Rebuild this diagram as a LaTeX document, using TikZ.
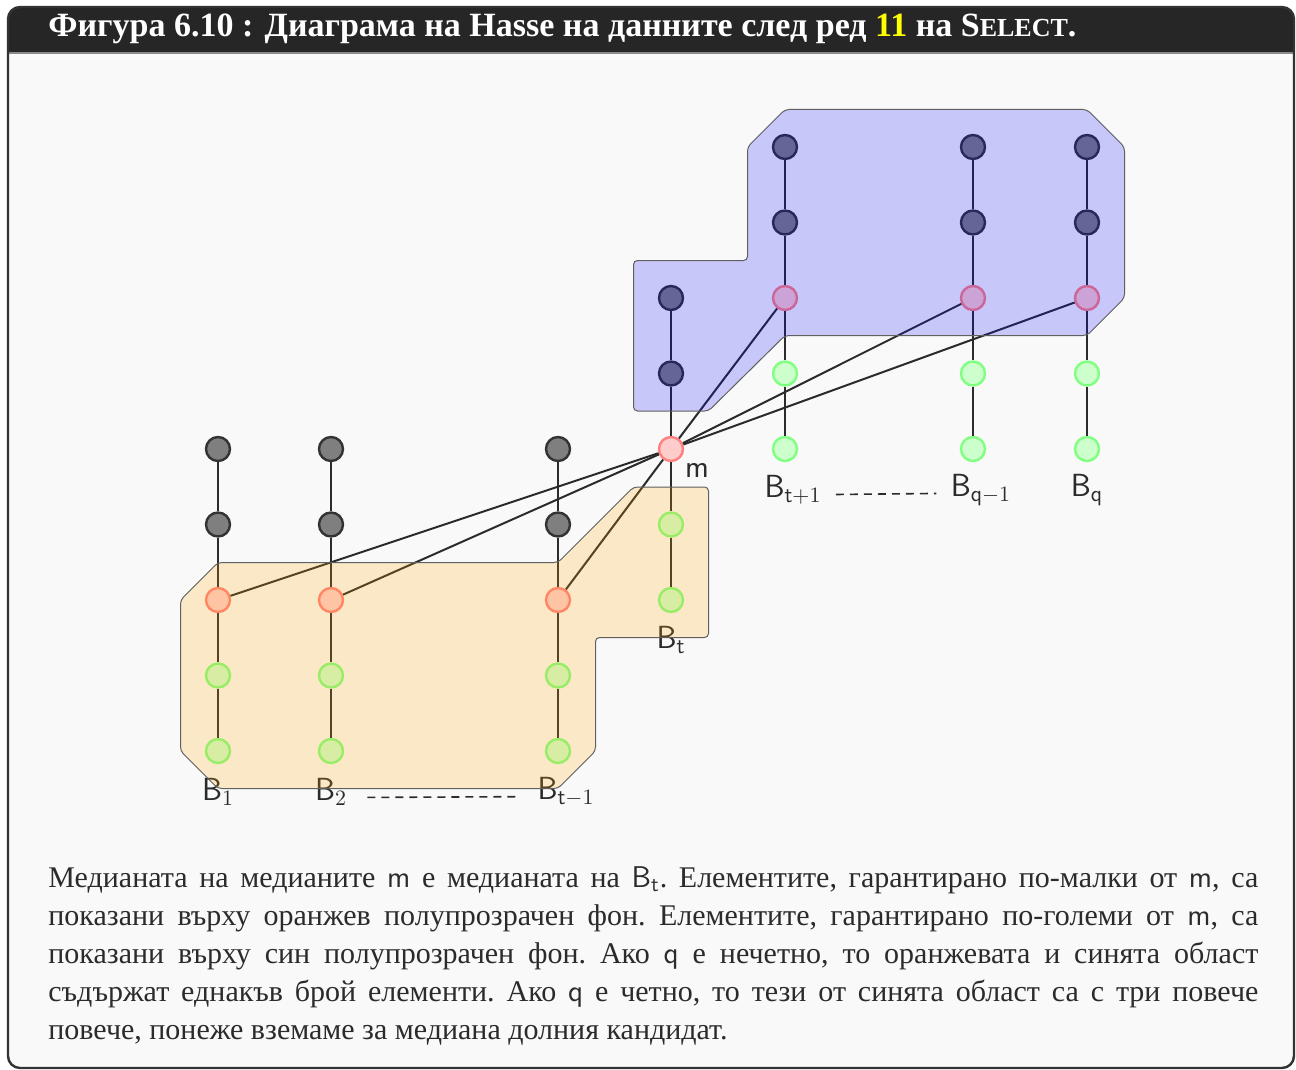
\documentclass[tikz,border=0pt]{standalone}
\usepackage{fontspec}
\setmainfont{Liberation Serif}
\usepackage{xcolor}
\usepackage{tikz}
\usetikzlibrary{positioning,calc}
\definecolor{Paper}{HTML}{F9F9F9}
\definecolor{Bar}{HTML}{262626}
\definecolor{Rule}{HTML}{8A8A8A}
\definecolor{Frame}{HTML}{333333}
\definecolor{Ink}{HTML}{2B2B2B}
\definecolor{Big}{HTML}{7F7F7F}
\definecolor{BigRim}{HTML}{333333}
\definecolor{Med}{HTML}{FFCCCC}
\definecolor{MedRim}{HTML}{FF8080}
\definecolor{Small}{HTML}{CCFFCC}
\definecolor{SmallRim}{HTML}{80FF80}
\definecolor{Amber}{HTML}{FFA500}
\definecolor{Azure}{HTML}{0000FF}
\definecolor{Gold}{HTML}{FFFF00}
\newcommand{\loosepar}{\frenchspacing\tolerance=9999\relax\hyphenpenalty=10000\relax}

\begin{document}
\begin{tikzpicture}[x=0.5pt,y=-0.5pt,node distance=37.75pt,on grid,font=\fontsize{16}{18}\selectfont]
  \tikzstyle{vtx}=[circle,minimum size=12pt,inner sep=0pt,line width=1.2pt]
  \tikzstyle{big}=[vtx,fill=Big,draw=BigRim]
  \tikzstyle{med}=[vtx,fill=Med,draw=MedRim]
  \tikzstyle{small}=[vtx,fill=Small,draw=SmallRim]
  \tikzstyle{link}=[draw=Ink,line width=1pt]
  \tikzstyle{lbl}=[text=Ink,inner sep=2pt]
  \tikzstyle{gap}=[draw=Ink,line width=0.8pt,dash pattern=on 4pt off 3pt]
  \tikzstyle{zone}=[draw=Ink!75,line width=0.5pt,rounded corners=2pt,fill opacity=0.2]
  \tikzstyle{body}=[anchor=north west,inner sep=0pt,text width=605pt,align=justify,text=Ink,
    font={\fontsize{15}{19}\selectfont}]

  % frame and title bar
  \useasboundingbox (0,0) rectangle (1296,1070);
  \fill[white] (0,0) rectangle (1296,1070);
  \begin{scope}
    \clip[rounded corners=6pt] (8,7) rectangle (1294,1068);
    \fill[Paper] (8,7) rectangle (1294,1068);
    \fill[Bar] (8,7) rectangle (1294,53);
  \end{scope}
  \draw[Rule,line width=0.8pt] (8,53) -- (1294,53);
  \draw[Frame,line width=1.2pt,rounded corners=6pt] (8,7) rectangle (1294,1068);
  \node[anchor=base west,inner sep=0pt,text=white,font=\bfseries\fontsize{17}{20}\selectfont] (title) at (48,37)
    {Фигура 6.10 : Диаграма на Hasse на данните след ред \textcolor{Gold}{11} на S{\fontsize{13}{15}\selectfont ELECT}.};

  % B_1, B_2, B_{t-1}
  \node[big] (one1) at (218,449) {};
  \node[big,below=of one1] (one2) {};
  \node[med,below=of one2] (one3) {};
  \node[small,below=of one3] (one4) {};
  \node[small,below=of one4] (one5) {};
  \node[big] (two1) at (331,449) {};
  \node[big,below=of two1] (two2) {};
  \node[med,below=of two2] (two3) {};
  \node[small,below=of two3] (two4) {};
  \node[small,below=of two4] (two5) {};
  \node[big] (pre1) at (558,449) {};
  \node[big,below=of pre1] (pre2) {};
  \node[med,below=of pre2] (pre3) {};
  \node[small,below=of pre3] (pre4) {};
  \node[small,below=of pre4] (pre5) {};
  % B_t, with the median of medians
  \node[big] (mid1) at (671,298) {};
  \node[big,below=of mid1] (mid2) {};
  \node[med,below=of mid2] (mid3) {};
  \node[small,below=of mid3] (mid4) {};
  \node[small,below=of mid4] (mid5) {};
  % B_{t+1}, B_{q-1}, B_q
  \node[big] (post1) at (785,147) {};
  \node[big,below=of post1] (post2) {};
  \node[med,below=of post2] (post3) {};
  \node[small,below=of post3] (post4) {};
  \node[small,below=of post4] (post5) {};
  \node[big] (qm1) at (973,147) {};
  \node[big,below=of qm1] (qm2) {};
  \node[med,below=of qm2] (qm3) {};
  \node[small,below=of qm3] (qm4) {};
  \node[small,below=of qm4] (qm5) {};
  \node[big] (q1) at (1087,147) {};
  \node[big,below=of q1] (q2) {};
  \node[med,below=of q2] (q3) {};
  \node[small,below=of q3] (q4) {};
  \node[small,below=of q4] (q5) {};

  \draw[link] (one1) -- (one2) -- (one3) -- (one4) -- (one5);
  \draw[link] (two1) -- (two2) -- (two3) -- (two4) -- (two5);
  \draw[link] (pre1) -- (pre2) -- (pre3) -- (pre4) -- (pre5);
  \draw[link] (mid1) -- (mid2) -- (mid3) -- (mid4) -- (mid5);
  \draw[link] (post1) -- (post2) -- (post3) -- (post4) -- (post5);
  \draw[link] (qm1) -- (qm2) -- (qm3) -- (qm4) -- (qm5);
  \draw[link] (q1) -- (q2) -- (q3) -- (q4) -- (q5);
  \draw[link] (mid3) -- (one3);
  \draw[link] (mid3) -- (two3);
  \draw[link] (mid3) -- (pre3);
  \draw[link] (mid3) -- (post3);
  \draw[link] (mid3) -- (qm3);
  \draw[link] (mid3) -- (q3);

  \node[lbl,below=20.5pt of one5] (labone) {$\mathsf{B}_{1}$};
  \node[lbl,below=20.5pt of two5] (labtwo) {$\mathsf{B}_{2}$};
  \node[lbl,below=20.5pt of pre5,xshift=4pt] (labpre) {$\mathsf{B}_{\mathsf{t}-1}$};
  \node[lbl,below=20pt of mid5] (labmid) {$\mathsf{B}_{\mathsf{t}}$};
  \node[lbl,below=20.5pt of post5,xshift=4pt] (labpost) {$\mathsf{B}_{\mathsf{t}+1}$};
  \node[lbl,below=20.5pt of qm5,xshift=4pt] (labqm) {$\mathsf{B}_{\mathsf{q}-1}$};
  \node[lbl,below=20.5pt of q5] (labq) {$\mathsf{B}_{\mathsf{q}}$};
  \node[lbl,below right=10.5pt and 13pt of mid3] (labm) {$\mathsf{m}$};
  \draw[gap,shorten <=8pt,shorten >=6pt] ([yshift=1.5pt]labtwo.base east) -- ([yshift=1.5pt]labpre.base west);
  \draw[gap,shorten <=5pt,shorten >=5pt] ([yshift=1.5pt]labpost.base east) -- ([yshift=1.5pt]labqm.base west);

  % surely smaller / surely larger than m
  \path[zone,fill=Amber] ($(one3)+(-37.5,0)$) -- ($(one3)+(0,-37.5)$) -- ($(pre3)+(0,-37.5)$)
    -- ($(mid4)+(-37.5,-37.5)$) -- ($(mid4)+(37.5,-37.5)$) -- ($(mid5)+(37.5,37.5)$)
    -- ($(pre3)+(37.5,37.5)$) -- ($(pre5)+(37.5,0)$) -- ($(pre5)+(0,37.5)$)
    -- ($(one5)+(0,37.5)$) -- ($(one5)+(-37.5,0)$) -- cycle;
  \path[zone,fill=Azure] ($(mid1)+(-37.5,-37.5)$) -- ($(post3)+(-37.5,-37.5)$) -- ($(post1)+(-37.5,0)$)
    -- ($(post1)+(0,-37.5)$) -- ($(q1)+(0,-37.5)$) -- ($(q1)+(37.5,0)$) -- ($(q3)+(37.5,0)$)
    -- ($(q3)+(0,37.5)$) -- ($(post3)+(0,37.5)$) -- ($(mid2)+(37.5,37.5)$)
    -- ($(mid2)+(-37.5,37.5)$) -- cycle;

  \node[body] (caption) at (48,866) {\loosepar Медианата на медианите $\mathsf{m}$ е медианата на $\mathsf{B}_{\mathsf{t}}$. Елементите, гарантирано по-малки от $\mathsf{m}$, са\linebreak
    показани върху оранжев полупрозрачен фон. Елементите, гарантирано по-големи от $\mathsf{m}$, са\linebreak
    показани върху син полупрозрачен фон. Ако $\mathsf{q}$ е нечетно, то оранжевата и синята област\linebreak
    съдържат еднакъв брой елементи. Ако $\mathsf{q}$ е четно, то тези от синята област са с три повече\linebreak
    повече, понеже вземаме за медиана долния кандидат.};
\end{tikzpicture}
\end{document}
